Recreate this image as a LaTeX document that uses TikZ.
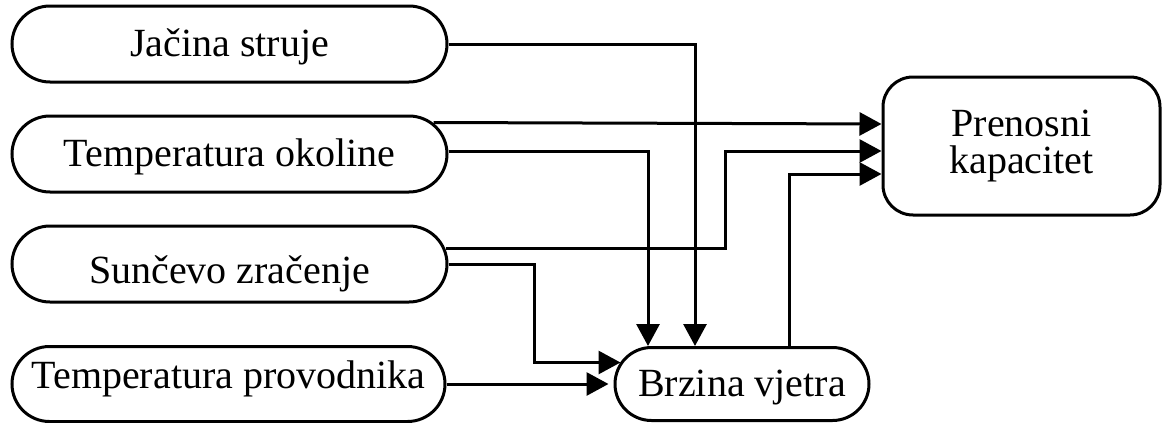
\documentclass[tikz,border=0pt]{standalone}
\usepackage{fontspec}
\setmainfont{Liberation Serif}
\newfontfamily\tnrfont{Liberation Serif}
\usetikzlibrary{arrows.meta}
\begin{document}
\begin{tikzpicture}[x=0.5pt,y=-0.5pt,
  every node/.style={font=\tnrfont\fontsize{20pt}{18.5pt}\selectfont},
  inbox/.style={draw, line width=1.5pt, inner sep=0pt, text height=14pt, text depth=2pt,
    minimum width=217.5pt, minimum height=38pt, rounded corners=19pt},
  arr/.style={line width=1.5pt, -{Triangle[length=11pt,width=11.5pt]}},
  ln/.style={line width=1.5pt}]
\useasboundingbox (0,0) rectangle (1163,423);
\node[inbox] (b1) at (229.5,44) {Jačina struje};
\node[inbox] (b2) at (229.5,154) {Temperatura okoline};
\node[inbox] (b3) at (229.5,264) {\raisebox{-3.5pt}{Sunčevo zračenje}};
\node[inbox, minimum width=216.5pt, minimum height=37.5pt, rounded corners=18.75pt] (b4) at (228.5,384) {\raisebox{4pt}{Temperatura provodnika}};
\node[inbox, minimum width=127pt, minimum height=36.5pt, rounded corners=18.25pt] (bv) at (742,384) {Brzina vjetra};
\node[draw, line width=1.5pt, inner sep=0pt, align=center, minimum width=138.5pt, minimum height=69pt, rounded corners=15pt] (pk) at (1021.5,146) {Prenosni\\kapacitet};
% connectors
\draw[arr] (b1.east) -| ([xshift=-23.5pt]bv.north);
\draw[arr] ([shift={(-15,8)}]b2.north east) -- ([shift={(0,-22)}]pk.west);
\draw[arr] ([shift={(0,-3)}]b2.east) -| ([xshift=-47pt]bv.north);
\draw[arr] ([shift={(-3,24)}]b3.north east) -| ([shift={(-156,5)}]pk.west) -- ([shift={(0,5)}]pk.west);
\draw[arr] ([xshift=23.5pt]bv.north) |- ([shift={(0,28)}]pk.west);
\draw[arr] (b3.east) -| ([shift={(-79,-21.5)}]bv.west) -- ([shift={(7,-21.5)}]bv.west);
\draw[arr, shorten >=2.5pt] (b4.east) -- (bv.west);
\end{tikzpicture}
\end{document}
